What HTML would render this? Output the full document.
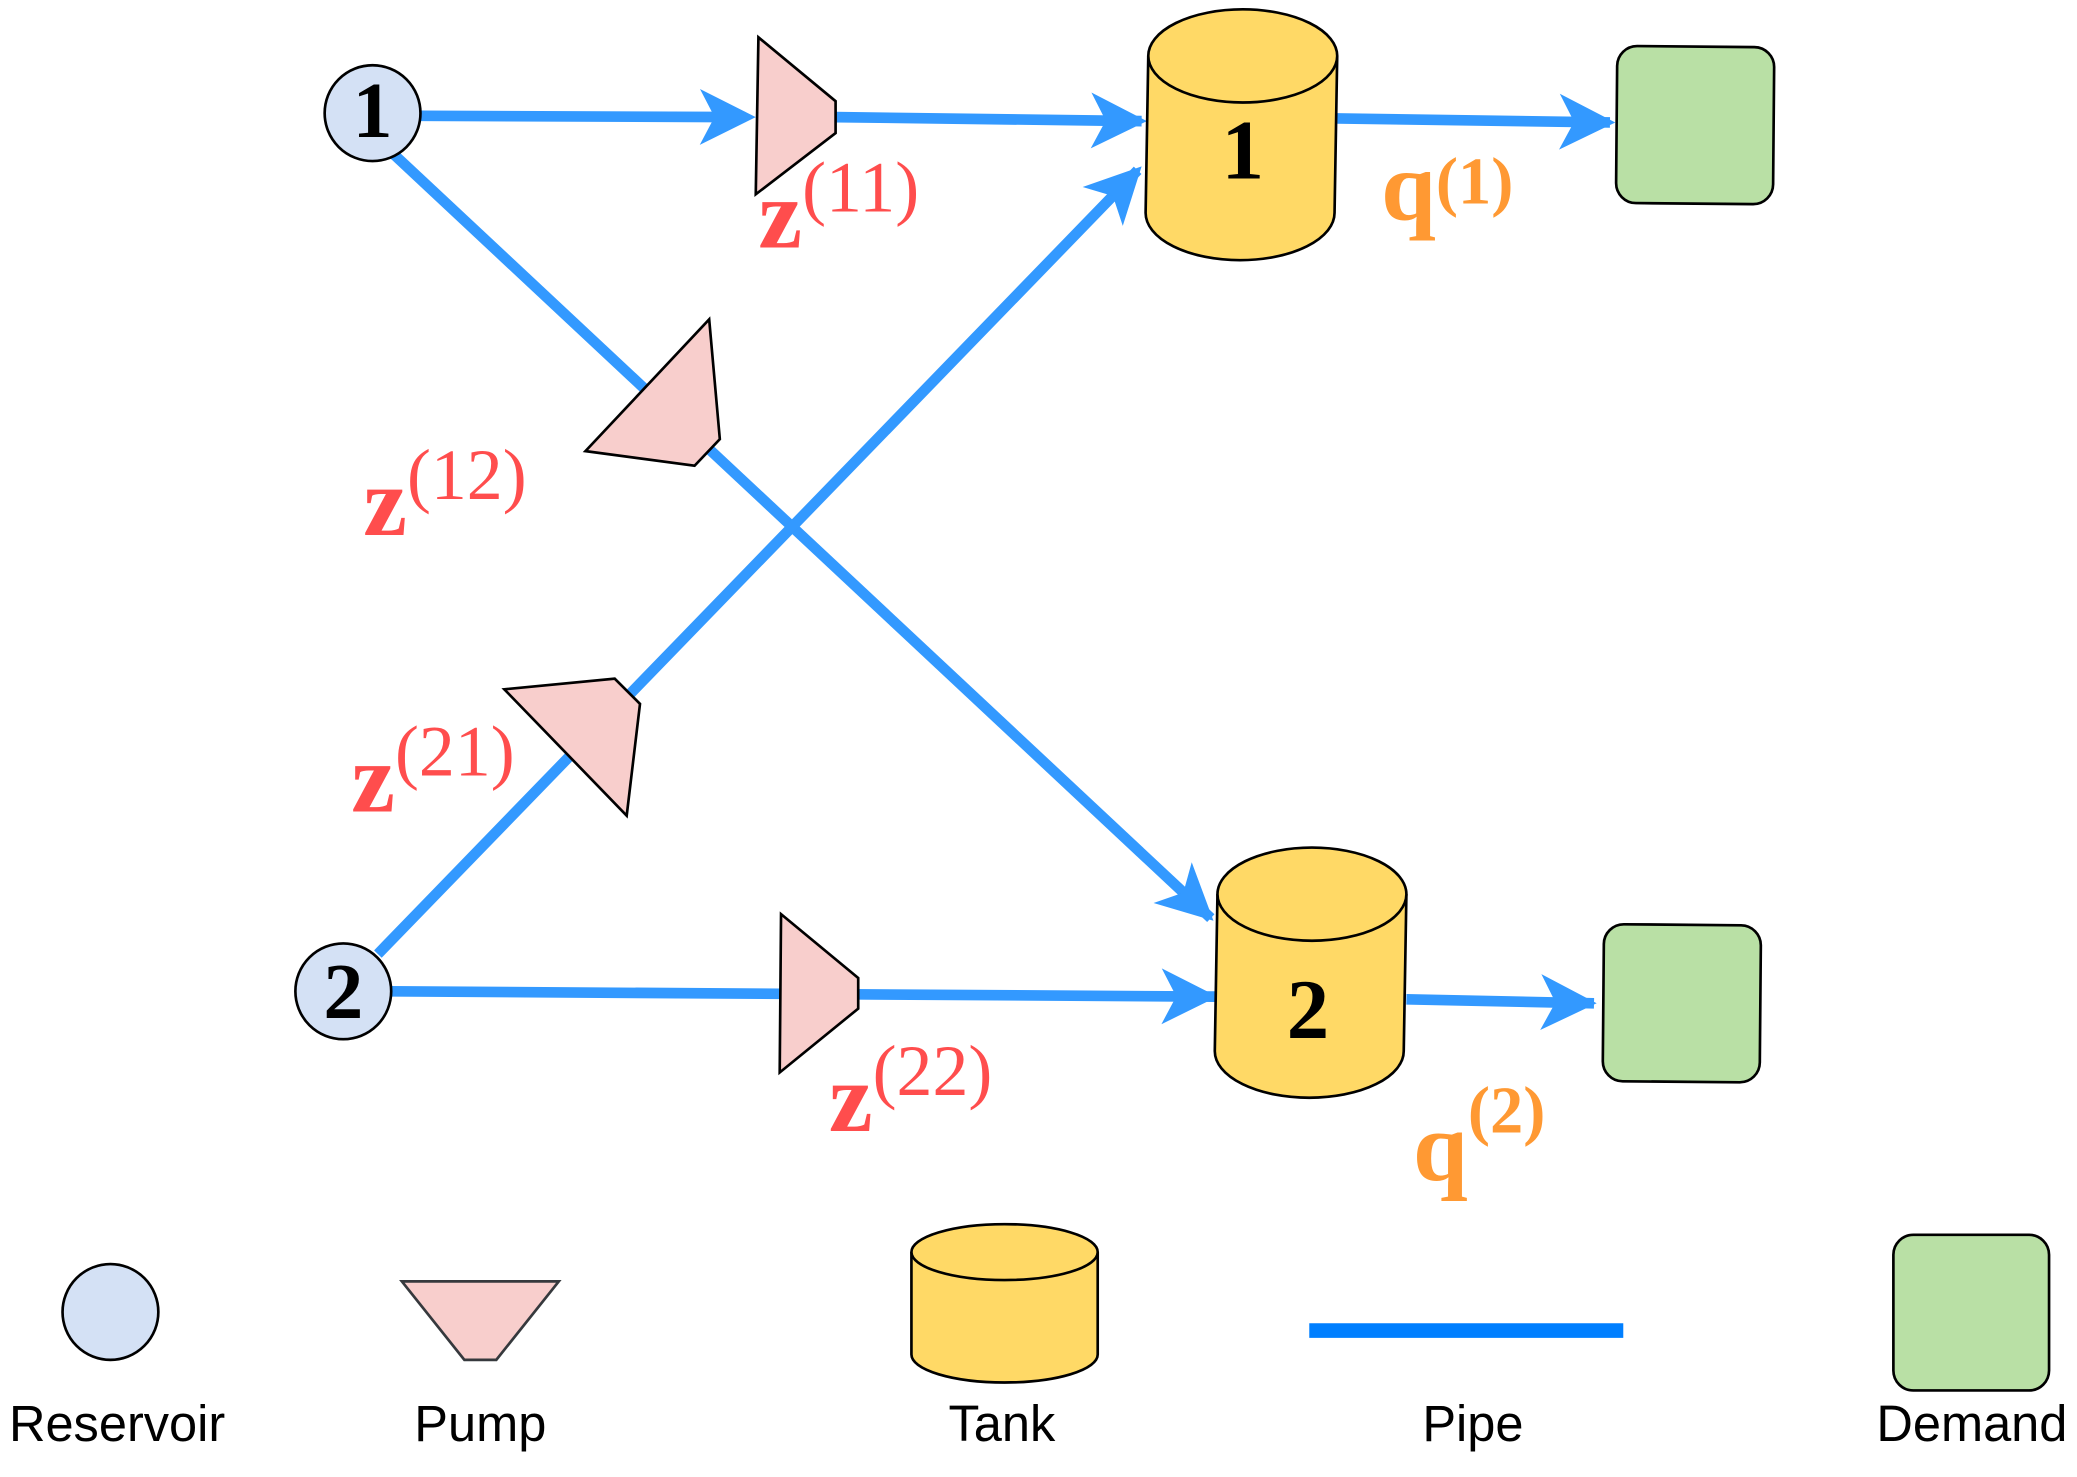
<!DOCTYPE html>
<html><head><meta charset="utf-8"><style>
html,body{margin:0;padding:0;background:#fff;}
svg{display:block;}
.lab{font-family:"Liberation Sans",sans-serif;font-size:38px;fill:#000;}
.z{font-family:"Liberation Serif",serif;font-weight:bold;fill:#ff4d4d;}
.q{font-family:"Liberation Serif",serif;font-weight:bold;fill:#ff9933;}
.num{font-family:"Liberation Serif",serif;font-weight:bold;fill:#000;}
</style></head><body>
<svg id="d" width="2077" height="1477" viewBox="0 0 1561 1110">
<g id="pipes" stroke="#3399ff" stroke-width="8" fill="none">
<line x1="316" y1="87" x2="560" y2="88"/>
<line x1="628" y1="88" x2="858" y2="91"/>
<line x1="1005" y1="89" x2="1210" y2="92"/>
<line x1="296" y1="116" x2="910" y2="690"/>
<line x1="284" y1="717" x2="855" y2="128"/>
<line x1="294" y1="745" x2="913" y2="749"/>
<line x1="1057" y1="751" x2="1198" y2="754"/>
</g>
<g id="arrows" fill="#3399ff"></g>
<g stroke="#000" stroke-width="2">
<circle cx="280" cy="85" r="36" fill="#d4e1f5"/>
<circle cx="258" cy="745" r="36" fill="#d4e1f5"/>
<polygon points="570,28 628,76 628,100 568,146" fill="#f8cecc"/>
<polygon points="533,240 541,330 522,350 440,339" fill="#f8cecc"/>
<polygon points="379,518 462,510 481,529 471,613" fill="#f8cecc"/>
<polygon points="587,687 645,735 645,758 586,806" fill="#f8cecc"/>
<g>
<path d="M863,42 L861,160 A70,35 0 0 0 1003,160 L1005,42" fill="#ffd966"/>
<ellipse cx="934" cy="42" rx="71" ry="35" fill="#ffd966"/>
</g>
<g>
<path d="M915,672 L913,790 A71,35 0 0 0 1055,790 L1057,672" fill="#ffd966"/>
<ellipse cx="986" cy="672" rx="71" ry="35" fill="#ffd966"/>
</g>
<rect x="1215" y="35" width="118" height="118" rx="15" fill="#b9e0a5" transform="rotate(0.5 1274 94)"/>
<rect x="1205" y="695" width="118" height="118" rx="15" fill="#b9e0a5" transform="rotate(0.5 1264 754)"/>
</g>
<text x="280" y="103" font-size="60" text-anchor="middle" class="num">1</text>
<text x="258" y="765" font-size="60" text-anchor="middle" class="num">2</text>
<text x="934" y="134" font-size="64" text-anchor="middle" class="num">1</text>
<text x="983" y="780" font-size="64" text-anchor="middle" class="num">2</text>
<text x="570" y="186" class="z" font-size="74">z<tspan font-size="54" font-weight="normal" dy="-27">(11)</tspan></text>
<text x="273" y="402" class="z" font-size="74">z<tspan font-size="54" font-weight="normal" dy="-27">(12)</tspan></text>
<text x="264" y="610" class="z" font-size="74">z<tspan font-size="54" font-weight="normal" dy="-27">(21)</tspan></text>
<text x="623" y="850" class="z" font-size="74">z<tspan font-size="54" font-weight="normal" dy="-27">(22)</tspan></text>
<text x="1038" y="165" class="q" font-size="74">q<tspan font-size="50" dy="-12">(1)</tspan></text>
<text x="1062" y="887" class="q" font-size="74">q<tspan font-size="50" dy="-36">(2)</tspan></text>
<g>
<circle cx="83" cy="986" r="36" fill="#d4e1f5" stroke="#000" stroke-width="2"/>
<polygon points="302,963 420,963 373,1022 349,1022" fill="#f8cecc" stroke="#36393d" stroke-width="2"/>
<g stroke="#000" stroke-width="2">
<path d="M685,941 L685,1018 A70,21 0 0 0 825,1018 L825,941" fill="#ffd966"/>
<ellipse cx="755" cy="941" rx="70" ry="21" fill="#ffd966"/>
</g>
<line x1="984" y1="1000" x2="1220" y2="1000" stroke="#007fff" stroke-width="11"/>
<rect x="1423" y="928" width="117" height="117" rx="15" fill="#b9e0a5" stroke="#000" stroke-width="2"/>
<text x="88" y="1083" text-anchor="middle" class="lab">Reservoir</text>
<text x="361" y="1083" text-anchor="middle" class="lab">Pump</text>
<text x="753" y="1083" text-anchor="middle" class="lab">Tank</text>
<text x="1107" y="1083" text-anchor="middle" class="lab">Pipe</text>
<text x="1482" y="1083" text-anchor="middle" class="lab">Demand</text>
</g>
</svg>
<script>
const tips=[[568,88,316,87],[862,91,628,88],[1214,92,1005,89],[912,692,296,116],[858,125,284,717],[915,749,294,745],[1200,754,1057,751]];
const names=['arrow-r1-pump11','arrow-tank1','arrow-demand1','arrow-tank2-diag','arrow-tank1-diag','arrow-tank2','arrow-demand2'];
const g=document.getElementById('arrows');
tips.forEach((t,i)=>{
  let dx=t[0]-t[2],dy=t[1]-t[3],L=Math.hypot(dx,dy);dx/=L;dy/=L;
  const nx=-dy,ny=dx,tx=t[0],ty=t[1];
  const p=[[tx,ty],[tx-42*dx+21*nx,ty-42*dy+21*ny],[tx-31*dx,ty-31*dy],[tx-42*dx-21*nx,ty-42*dy-21*ny]];
  const el=document.createElementNS('http://www.w3.org/2000/svg','polygon');
  el.setAttribute('points',p.map(q=>q.join(',')).join(' '));
  
  
  g.appendChild(el);
});
</script>
</body></html>
